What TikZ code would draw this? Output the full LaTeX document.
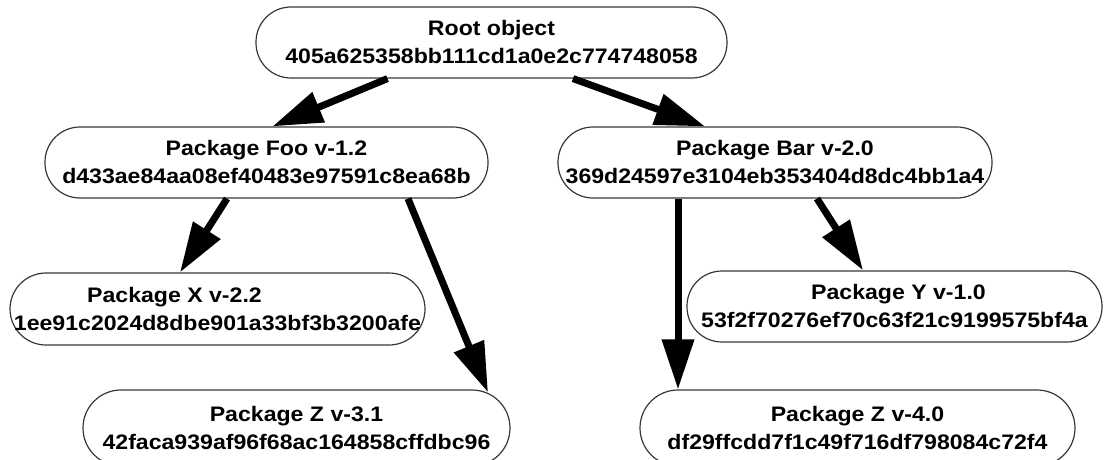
\documentclass[tikz,border=0pt]{standalone}
\usepackage{fontspec}
\setmainfont{Liberation Sans}[FakeStretch=1.1]
\usetikzlibrary{arrows.meta,positioning,calc}
\definecolor{ink}{RGB}{20,20,20}
\tikzset{
	dep/.style={-{Triangle[length=50pt,width=31pt]},line width=7pt,draw=black},
	pkg/.style={draw=ink!85,line width=1.2pt,rounded corners=36pt,align=center,
		minimum height=72pt,inner sep=2pt,text=black,
		font=\fontsize{21}{28}\selectfont\bfseries},
}

\begin{document}
\begin{tikzpicture}[x=1pt,y=-1pt]
		\useasboundingbox (0,0) rectangle (1106,460);
		
		\node[pkg,minimum width=471pt,minimum height=71pt,rounded corners=35pt] (root) at (491.5,42.5)
		{Root object\\405a625358bb111cd1a0e2c774748058};
		
		\node[pkg,minimum width=443pt,minimum height=71pt,rounded corners=35pt] (foo) at (266.5,162.5)
		{Package Foo v-1.2\\d433ae84aa08ef40483e97591c8ea68b};
		\node[pkg,minimum width=434pt,minimum height=71pt,rounded corners=35pt] (bar) at (775,162.5)
		{Package Bar v-2.0\\369d24597e3104eb353404d8dc4bb1a4};
		
		\node[pkg,minimum width=415pt] (pkgx) at (217.5,309)
		{Package X v-2.2\hspace*{86pt}\\1ee91c2024d8dbe901a33bf3b3200afe};
		\node[pkg,minimum width=427pt,minimum height=76pt,rounded corners=38pt] (pkgza) at (296.5,428)
		{Package Z v-3.1\\42faca939af96f68ac164858cffdbc96};
		
		\node[pkg,minimum width=415pt,minimum height=71pt,rounded corners=35pt] (pkgy) at (894.5,306.5)
		{\hspace*{8pt}Package Y v-1.0\\53f2f70276ef70c63f21c9199575bf4a};
		\node[pkg,minimum width=435pt,minimum height=76pt,rounded corners=38pt] (pkgzb) at (857.5,428)
		{Package Z v-4.0\\df29ffcdd7f1c49f716df798084c72f4};
		
		\draw[dep] ([xshift=-104pt]root.south) -- ([xshift=6pt]foo.north);
		\draw[dep] ([xshift=81.5pt]root.south) -- ([xshift=-70pt]bar.north);
		\draw[dep] ([xshift=-39.5pt]foo.south) -- ([xshift=-37.5pt]pkgx.north);
		\draw[dep] ([xshift=141.5pt]foo.south) -- ([xshift=191.5pt,yshift=-3pt]pkgza.north);
		\draw[dep] ([xshift=-97pt]bar.south) -- ([xshift=-179.5pt]pkgzb.north);
		\draw[dep] ([xshift=42pt]bar.south) -- ([xshift=-31.5pt]pkgy.north);
		
	\end{tikzpicture}
\end{document}
